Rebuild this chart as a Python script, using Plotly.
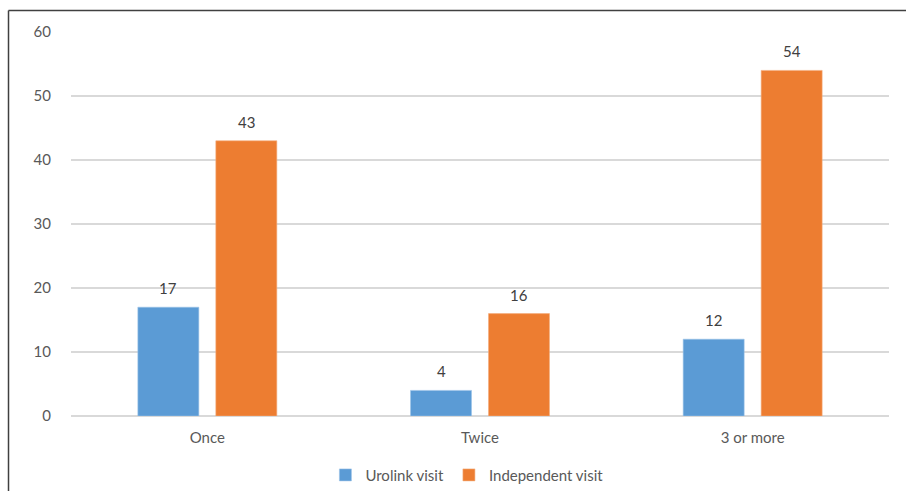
import plotly.graph_objects as go

categories = ["Once", "Twice", "3 or more"]
urolink_visit = [17, 4, 12]
independent_visit = [43, 16, 54]
y_ticks = [0, 10, 20, 30, 40, 50, 60]

BLUE = "#5B9BD5"
ORANGE = "#ED7D31"
FONT = "Lato, 'Open Sans', sans-serif"
CLEAR = "rgba(0,0,0,0)"

fig = go.Figure()
fig.add_trace(go.Bar(
    x=categories, y=urolink_visit, name="Urolink visit",
    marker=dict(color=BLUE, line=dict(color="#9cc3e8", width=0.6)),
))
fig.add_trace(go.Bar(
    x=categories, y=independent_visit, name="Independent visit",
    marker=dict(color=ORANGE, line=dict(color="#f4ad7e", width=0.6)),
))

# value labels above each bar
annotations = []
for series, shift in ((urolink_visit, -39), (independent_visit, 39)):
    for cat, val in zip(categories, series):
        annotations.append(dict(
            x=cat, y=val, xref="x", yref="y", text=str(val),
            showarrow=False, xshift=shift, yshift=19, yanchor="middle",
            font=dict(family=FONT, size=15, color="#404040"),
        ))

# frame lines on the left and top edges
shapes = [
    dict(type="line", xref="paper", yref="paper",
         x0=-0.0764, x1=-0.0764, y0=-0.25, y1=1.056,
         line=dict(color="#404040", width=1.5)),
    dict(type="line", xref="paper", yref="paper",
         x0=-0.0764, x1=1.03, y0=1.056, y1=1.056,
         line=dict(color="#404040", width=1.5)),
]

fig.update_layout(
    width=906, height=491,
    margin=dict(l=71, r=17, t=32, b=75, autoexpand=False),
    paper_bgcolor="white", plot_bgcolor="white",
    barmode="group", bargap=0.428, bargroupgap=0.218,
    font=dict(family=FONT, size=15, color="#595959"),
    showlegend=True,
    legend=dict(orientation="h", x=0.484, xanchor="center",
                y=-0.154, yanchor="middle",
                font=dict(family=FONT, size=15, color="#595959"),
                itemwidth=30),
    annotations=annotations,
    shapes=shapes,
)
fig.update_xaxes(showgrid=False, showline=False, automargin=False,
                 ticks="outside", ticklen=8, tickcolor=CLEAR,
                 tickfont=dict(family=FONT, size=15, color="#595959"))
fig.update_yaxes(range=[0, 60], tickvals=y_ticks, showgrid=True,
                 gridcolor="#D9D9D9", gridwidth=1.5, automargin=False,
                 zeroline=True, zerolinecolor="#D9D9D9", zerolinewidth=1.5,
                 showline=False, ticks="outside", ticklen=16, tickcolor=CLEAR,
                 tickfont=dict(family=FONT, size=15, color="#595959"))

fig.write_html("out.html")
